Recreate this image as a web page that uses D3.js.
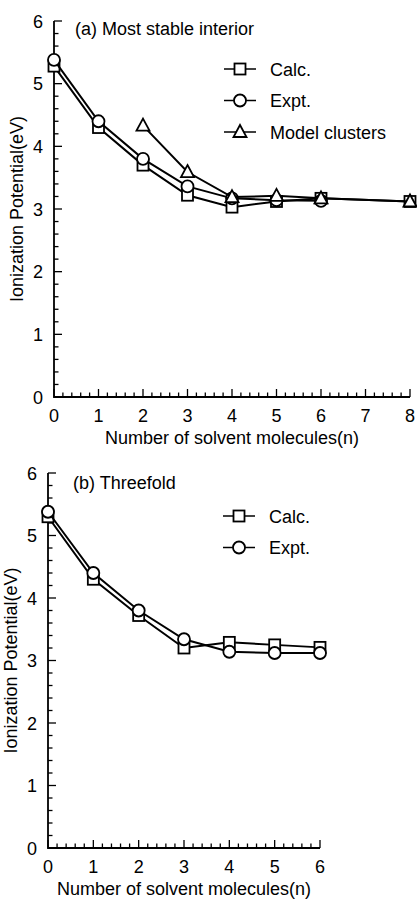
<!DOCTYPE html>
<html lang="en">
<head>
<meta charset="utf-8">
<title>Ionization potential vs solvent molecules</title>
<script src="https://d3js.org/d3.v7.min.js"></script>
<style>
  body { margin: 0; background: #fff; }
  text { font-family: "Liberation Sans", Arial, sans-serif; fill: #000; }
</style>
</head>
<body>
<script>

// panel (a) Most stable interior
var nA = [0, 1, 2, 3, 4, 5, 6, 8];
var calcA = [5.28, 4.30, 3.70, 3.22, 3.03, 3.12, 3.17, 3.12];
var nExptA = [0, 1, 2, 3, 4, 5, 6];
var exptA = [5.38, 4.40, 3.80, 3.36, 3.17, 3.14, 3.13];
var nModel = [2, 3, 4, 5, 6, 8];
var modelA = [4.33, 3.59, 3.19, 3.21, 3.17, 3.12];

// panel (b) Threefold
var nB = [0, 1, 2, 3, 4, 5, 6];
var calcB = [5.30, 4.30, 3.72, 3.20, 3.29, 3.25, 3.21];
var exptB = [5.38, 4.40, 3.80, 3.34, 3.14, 3.12, 3.12];

var yTicks = [0, 1, 2, 3, 4, 5, 6];
var xTitle = "Number of solvent molecules(n)";
var yTitle = "Ionization Potential(eV)";

var width = 417, height = 899;
var fs = 18;

var svg = d3.select("body").append("svg")
    .attr("width", width)
    .attr("height", height);

function zip(xs, ys) {
  return xs.map(function(x, i) { return {n: x, v: ys[i]}; });
}

function drawMarker(g, shape, cx, cy) {
  if (shape == "square") {
    g.append("rect")
      .attr("x", cx - 5.5).attr("y", cy - 5.5)
      .attr("width", 11).attr("height", 11)
      .attr("fill", "#fff").attr("stroke", "#000").attr("stroke-width", 1.8);
  } else if (shape == "circle") {
    g.append("circle")
      .attr("cx", cx).attr("cy", cy).attr("r", 6)
      .attr("fill", "#fff").attr("stroke", "#000").attr("stroke-width", 1.8);
  } else {
    g.append("path")
      .attr("d", "M" + cx + "," + (cy - 7) + "L" + (cx + 6.5) + "," + (cy + 5) + "L" + (cx - 6.5) + "," + (cy + 5) + "Z")
      .attr("fill", "#fff").attr("stroke", "#000").attr("stroke-width", 1.8);
  }
}

function panel(opt) {
  var x = d3.scaleLinear().domain([0, opt.xMax]).range([opt.left, opt.right]);
  var y = d3.scaleLinear().domain([0, 6]).range([opt.bottom, opt.top]);
  var g = svg.append("g");

  // axes, ticks inward
  g.append("path")
    .attr("d", "M" + x(0) + "," + y(6) + "V" + y(0) + "H" + x(opt.xMax))
    .attr("fill", "none").attr("stroke", "#000").attr("stroke-width", 1.8);

  var xMinor = d3.range(0, opt.xMax * 5 + 1).map(function(i) { return i / 5; });
  g.selectAll(".xt").data(xMinor).enter().append("line")
    .attr("x1", function(d) { return x(d); })
    .attr("x2", function(d) { return x(d); })
    .attr("y1", y(0))
    .attr("y2", function(d, i) { return y(0) - (i % 5 == 0 ? 8 : 4.5); })
    .attr("stroke", "#000").attr("stroke-width", 1.3);

  var yMinor = d3.range(0, 31).map(function(i) { return i / 5; });
  g.selectAll(".yt").data(yMinor).enter().append("line")
    .attr("y1", function(d) { return y(d); })
    .attr("y2", function(d) { return y(d); })
    .attr("x1", x(0))
    .attr("x2", function(d, i) { return x(0) + (i % 5 == 0 ? 8 : 4.5); })
    .attr("stroke", "#000").attr("stroke-width", 1.3);

  g.selectAll(".xl").data(d3.range(0, opt.xMax + 1)).enter().append("text")
    .attr("x", function(d) { return x(d); })
    .attr("y", y(0) + 25)
    .attr("text-anchor", "middle")
    .attr("font-size", fs)
    .text(function(d) { return d; });

  g.selectAll(".yl").data(yTicks).enter().append("text")
    .attr("x", x(0) - 11)
    .attr("y", function(d) { return y(d) + 6.5; })
    .attr("text-anchor", "end")
    .attr("font-size", fs)
    .text(function(d) { return d; });

  g.append("text")
    .attr("x", (opt.left + opt.right) / 2)
    .attr("y", y(0) + 46.5)
    .attr("text-anchor", "middle")
    .attr("font-size", fs)
    .text(xTitle);

  g.append("text")
    .attr("transform", "translate(" + (opt.left - 31) + "," + ((opt.top + opt.bottom) / 2) + ") rotate(-90)")
    .attr("text-anchor", "middle")
    .attr("font-size", fs)
    .text(yTitle);

  g.append("text")
    .attr("x", opt.left + opt.labelDx)
    .attr("y", opt.top + opt.labelDy)
    .attr("font-size", fs)
    .text(opt.label);

  var line = d3.line()
    .x(function(d) { return x(d.n); })
    .y(function(d) { return y(d.v); });

  opt.series.forEach(function(s) {
    g.append("path")
      .datum(s.data)
      .attr("d", line)
      .attr("fill", "none").attr("stroke", "#000").attr("stroke-width", 2);
    s.data.forEach(function(d) { drawMarker(g, s.shape, x(d.n), y(d.v)); });
  });

  // legend
  opt.series.forEach(function(s, i) {
    var ly = opt.legendY + i * 31.5;
    g.append("line")
      .attr("x1", opt.legendX - 16).attr("x2", opt.legendX + 16)
      .attr("y1", ly).attr("y2", ly)
      .attr("stroke", "#000").attr("stroke-width", 1.5);
    drawMarker(g, s.shape, opt.legendX, ly);
    g.append("text")
      .attr("x", opt.legendX + 30)
      .attr("y", ly + 6.5)
      .attr("font-size", fs)
      .text(s.name);
  });
}

panel({
  xMax: 8, left: 54, right: 410, top: 21, bottom: 397,
  label: "(a) Most stable interior", labelDx: 21, labelDy: 14,
  legendX: 240, legendY: 69,
  series: [
    {name: "Calc.", shape: "square", data: zip(nA, calcA)},
    {name: "Expt.", shape: "circle", data: zip(nExptA, exptA)},
    {name: "Model clusters", shape: "triangle", data: zip(nModel, modelA)}
  ]
});

panel({
  xMax: 6, left: 48, right: 320, top: 473, bottom: 848,
  label: "(b) Threefold", labelDx: 25, labelDy: 16,
  legendX: 239, legendY: 516,
  series: [
    {name: "Calc.", shape: "square", data: zip(nB, calcB)},
    {name: "Expt.", shape: "circle", data: zip(nB, exptB)}
  ]
});

</script>
</body>
</html>
